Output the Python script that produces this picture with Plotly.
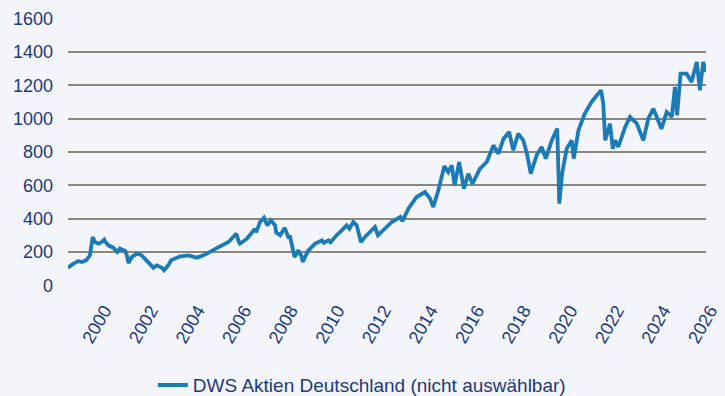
import plotly.graph_objects as go

# Wertentwicklung DWS Aktien Deutschland (indexiert)
dates = [
    "1999-02-15", "1999-04-01", "1999-05-10", "1999-06-20", "1999-07-25",
    "1999-09-20", "1999-11-25", "2000-01-25", "2000-03-08", "2000-04-15",
    "2000-06-05", "2000-07-30", "2000-09-05", "2000-09-20", "2000-11-10",
    "2001-01-25", "2001-03-28", "2001-05-10", "2001-07-30", "2001-08-25",
    "2001-09-21", "2001-11-10", "2002-01-30", "2002-04-15", "2002-06-25",
    "2002-08-25", "2002-10-15", "2002-12-10", "2003-02-25", "2003-03-31",
    "2003-06-05", "2003-07-20", "2003-10-05", "2003-12-10", "2004-04-15",
    "2004-08-25", "2004-12-10", "2005-04-20", "2005-08-25", "2006-01-05",
    "2006-05-10", "2006-06-14", "2006-07-05", "2006-10-20", "2007-02-25",
    "2007-03-14", "2007-05-15", "2007-07-15", "2007-08-16", "2007-09-05",
    "2007-11-01", "2008-01-05", "2008-01-22", "2008-03-25", "2008-06-05",
    "2008-07-30", "2008-08-28", "2008-10-05", "2008-11-05", "2009-01-05",
    "2009-02-28", "2009-03-12", "2009-06-10", "2009-09-25", "2010-01-10",
    "2010-02-08", "2010-04-20", "2010-05-25", "2010-08-01", "2010-11-15",
    "2011-02-01", "2011-03-16", "2011-05-15", "2011-07-08", "2011-09-12",
    "2011-11-15", "2012-02-01", "2012-04-20", "2012-06-05", "2012-09-25",
    "2013-01-08", "2013-05-20", "2013-06-24", "2013-09-25", "2014-02-01",
    "2014-06-12", "2014-09-01", "2014-10-20", "2015-01-08", "2015-04-12",
    "2015-06-12", "2015-08-05", "2015-09-20", "2015-11-30", "2016-02-12",
    "2016-04-22", "2016-06-27", "2016-10-22", "2017-02-05", "2017-05-20",
    "2017-08-08", "2017-10-25", "2018-01-22", "2018-03-28", "2018-06-12",
    "2018-09-01", "2018-10-28", "2018-12-27", "2019-03-28", "2019-06-15",
    "2019-08-20", "2019-11-20", "2020-02-15", "2020-03-18", "2020-05-01",
    "2020-07-12", "2020-09-30", "2020-10-30", "2021-01-12", "2021-04-22",
    "2021-08-05", "2021-10-27", "2022-01-03", "2022-02-05", "2022-03-08",
    "2022-05-22", "2022-07-05", "2022-08-12", "2022-09-29", "2023-01-15",
    "2023-04-01", "2023-07-16", "2023-10-27", "2024-01-12", "2024-04-01",
    "2024-08-06", "2024-10-27", "2025-01-15", "2025-03-05", "2025-04-08",
    "2025-06-01", "2025-09-05", "2025-11-20", "2026-02-10", "2026-04-01",
    "2026-05-22", "2026-07-05",
]
values = [
    106, 122, 130, 138, 146,
    140, 150, 180, 290, 260,
    250, 260, 274, 262, 240,
    226, 200, 220, 206, 180,
    134, 170, 190, 180, 154,
    130, 106, 120, 106, 90,
    120, 150, 165, 174, 180,
    166, 180, 210, 234, 260,
    310, 262, 250, 280, 340,
    318, 380, 406, 370, 360,
    390, 360, 318, 300, 345,
    290, 290, 210, 170, 210,
    170, 140, 210, 250, 270,
    255, 270, 258, 290, 330,
    360, 340, 380, 360, 260,
    290, 320, 350, 300, 340,
    380, 410, 385, 460, 530,
    560, 520, 470, 570, 715,
    680, 720, 600, 740, 580,
    670, 610, 700, 740, 840,
    790, 880, 920, 810, 910,
    870, 790, 670, 780, 830,
    760, 870, 940, 490, 670,
    820, 870, 760, 930, 1030,
    1100, 1140, 1170, 1090, 870,
    970, 820, 870, 830, 950,
    1010, 970, 870, 1000, 1060,
    940, 1040, 1010, 1190, 1020,
    1270, 1270, 1220, 1340, 1170,
    1340, 1280,
]

series_name = "DWS Aktien Deutschland (nicht auswählbar)"
y_ticks = [0, 200, 400, 600, 800, 1000, 1200, 1400, 1600]
x_tick_years = list(range(2000, 2027, 2))

navy = "#1b3a7a"
line_blue = "#1a7bb5"
grid_grey = "#8a887c"
bg = "#f4f5fb"

fig = go.Figure()
fig.add_trace(go.Scatter(
    x=dates, y=values, mode="lines", name=series_name,
    line=dict(color=line_blue, width=3.8),
    showlegend=True,
))

fig.update_layout(
    width=725, height=396,
    margin=dict(l=68, r=19, t=18, b=110, autoexpand=False),
    paper_bgcolor=bg, plot_bgcolor=bg,
    font=dict(family="Liberation Sans, Arial, sans-serif", color=navy, size=18),
    showlegend=True,
    legend=dict(
        orientation="h", x=0.133, xanchor="left", y=-0.37, yanchor="middle",
        bgcolor="rgba(0,0,0,0)", font=dict(size=19, color=navy),
    ),
    xaxis=dict(
        type="date",
        range=[dates[0], dates[-1]],
        tickvals=[f"{y}-01-01" for y in x_tick_years],
        ticktext=[str(y) for y in x_tick_years],
        tickangle=-60,
        ticklabelshift=16,
        showgrid=False, zeroline=False, showline=False,
        ticks="outside", ticklen=6, tickcolor="rgba(0,0,0,0)",
        automargin=False,
        tickfont=dict(size=18, color=navy),
    ),
    yaxis=dict(
        range=[-4, 1604],
        tickvals=y_ticks,
        showgrid=True, gridcolor=grid_grey, gridwidth=1.8,
        zeroline=False, showline=False, ticks="",
        ticklabelstandoff=14,
        automargin=False,
        tickfont=dict(size=18, color=navy),
    ),
)

fig.write_html("out.html")
